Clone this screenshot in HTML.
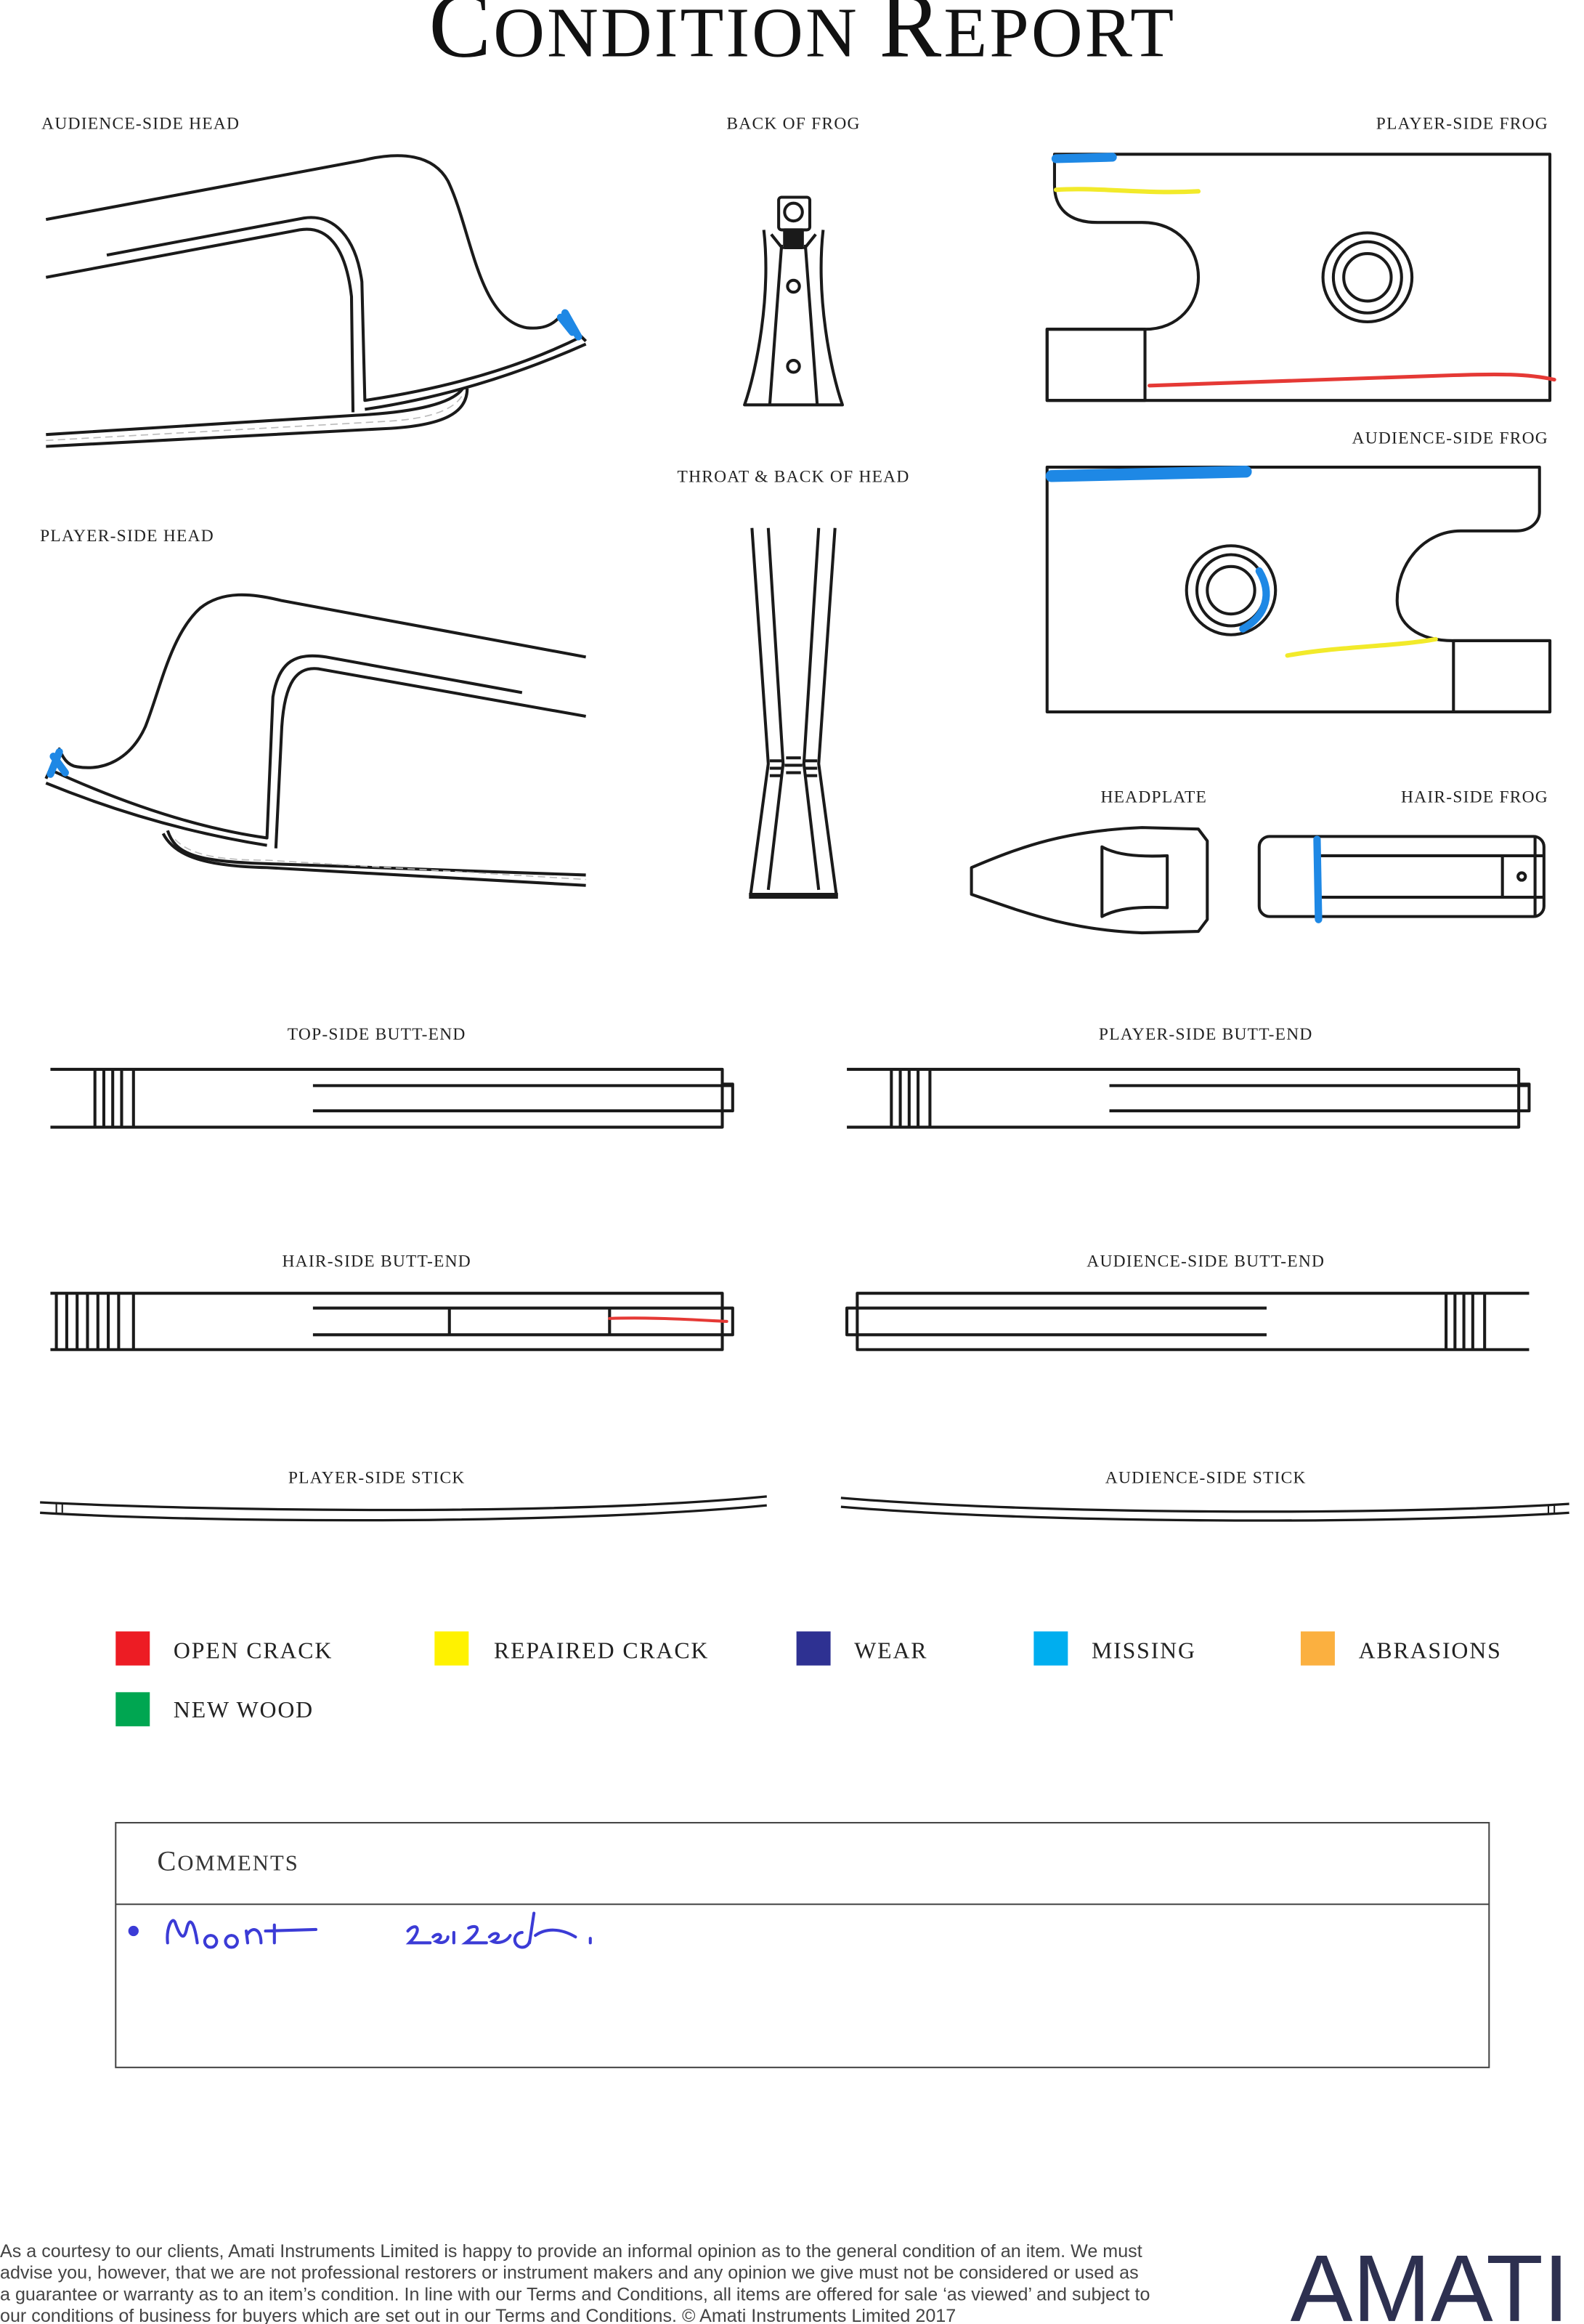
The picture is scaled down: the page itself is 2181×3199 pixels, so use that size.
<!DOCTYPE html>
<html><head><meta charset="utf-8"><style>
html,body{margin:0;padding:0;background:#fff}
svg{display:block}
.l{font-family:"Liberation Serif",serif;font-size:11.5px;letter-spacing:0.6px;fill:#222}
.g{font-family:"Liberation Serif",serif;font-size:15.6px;letter-spacing:0.9px;fill:#222}
.f{font-family:"Liberation Sans",sans-serif;font-size:12.3px;fill:#444}
</style></head><body>
<svg width="2181" height="3199" viewBox="0 0 1068 1567" preserveAspectRatio="none" xmlns="http://www.w3.org/2000/svg">
<rect width="1085" height="1592" fill="#fff"/>
<text x="541" y="38" text-anchor="middle" font-family="Liberation Serif,serif" fill="#111" letter-spacing="1.5"><tspan font-size="63">C</tspan><tspan font-size="48">ONDITION </tspan><tspan font-size="63">R</tspan><tspan font-size="48">EPORT</tspan></text>

<text class="l" x="28" y="87">AUDIENCE-SIDE HEAD</text>
<text class="l" x="535" y="87" text-anchor="middle">BACK OF FROG</text>
<text class="l" x="1044" y="87" text-anchor="end">PLAYER-SIDE FROG</text>
<text class="l" x="1044" y="299" text-anchor="end">AUDIENCE-SIDE FROG</text>
<text class="l" x="535" y="325" text-anchor="middle">THROAT &amp; BACK OF HEAD</text>
<text class="l" x="27" y="365">PLAYER-SIDE HEAD</text>
<text class="l" x="778" y="541" text-anchor="middle">HEADPLATE</text>
<text class="l" x="1044" y="541" text-anchor="end">HAIR-SIDE FROG</text>
<text class="l" x="254" y="701" text-anchor="middle">TOP-SIDE BUTT-END</text>
<text class="l" x="813" y="701" text-anchor="middle">PLAYER-SIDE BUTT-END</text>
<text class="l" x="254" y="854" text-anchor="middle">HAIR-SIDE BUTT-END</text>
<text class="l" x="813" y="854" text-anchor="middle">AUDIENCE-SIDE BUTT-END</text>
<text class="l" x="254" y="1000" text-anchor="middle">PLAYER-SIDE STICK</text>
<text class="l" x="813" y="1000" text-anchor="middle">AUDIENCE-SIDE STICK</text>

<g fill="none" stroke="#1a1a1a" stroke-width="2" stroke-linejoin="round">
<path d="M31,148 L245,108 C270,102 292,104 302,122 C318,155 322,215 355,221 C365,222 372,220 378,213 L395,230"/>
<path d="M72,172 L205,147 C225,144 240,160 244,190 L246,270 C300,262 350,248 392,227"/>
<path d="M31,187 L202,155 C220,152 233,165 237,200 L238,278"/>
<path d="M246,276 C300,268 350,252 395,232"/>
<path d="M31,293 L240,280 C280,278 305,272 312,262"/>
<path d="M31,301 L260,289 C300,287 315,278 315,262"/>
<path d="M31,297 L262,284 C295,282 308,274 312,266" stroke="#bbb" stroke-width="0.8" stroke-dasharray="5 3"/>
<path d="M395,443 L190,405 C170,400 150,398 135,410 C115,428 108,465 98,490 C88,512 70,520 52,517 C45,516 42,510 40,505 L31,525"/>
<path d="M352,467 L220,443 C200,440 188,445 184,470 L180,565 C130,558 80,540 36,520"/>
<path d="M395,483 L215,451 C200,449 192,460 190,490 L186,572"/>
<path d="M31,528 C80,548 130,562 180,570"/>
<path d="M113,560 C118,575 130,580 170,582 L395,590"/>
<path d="M110,562 C118,578 140,584 180,585 L395,597"/>
<path d="M118,566 C128,576 145,580 180,580 L395,593" stroke="#bbb" stroke-width="0.8" stroke-dasharray="5 3"/>
<rect x="525" y="133" width="21" height="22" rx="2"/>
<circle cx="535" cy="143" r="6"/>
<path d="M515,155 C520,200 510,250 502,273 L568,273 C560,250 550,200 555,155"/>
<path d="M527,165 L519,273 M543,165 L551,273 M520,158 L528,168 M550,158 L542,168"/>
<rect x="529" y="155" width="12" height="12" fill="#1a1a1a"/>
<circle cx="535" cy="193" r="4"/><circle cx="535" cy="247" r="4"/>
<path d="M711,104 L1045,104 L1045,270 L706,270 L706,222 L772,222 C795,222 808,205 808,187 C808,168 795,150 770,150 L740,150 C720,150 711,140 711,125 Z"/>
<rect x="706" y="222" width="66" height="48"/>
<ellipse cx="922" cy="187" rx="30" ry="30"/><ellipse cx="922" cy="187" rx="23" ry="24"/><ellipse cx="922" cy="187" rx="16" ry="16"/>
<path d="M706,315 L1038,315 L1038,345 C1038,352 1032,358 1022,358 L985,358 C960,358 942,380 942,405 C942,420 955,432 980,432 L1045,432 L1045,480 L706,480 Z"/>
<rect x="980" y="432" width="65" height="48"/>
<ellipse cx="830" cy="398" rx="30" ry="30"/><ellipse cx="830" cy="398" rx="23" ry="24"/><ellipse cx="830" cy="398" rx="16" ry="16"/>
<path d="M507,356 L518,515 L506,604 M518,356 L528,515 L518,600 M552,356 L542,515 L552,600 M563,356 L552,515 L564,604"/>
<path d="M505,604 L565,604" stroke-width="4"/>
<g fill="#1a1a1a" stroke="none"><rect x="519" y="512" width="8" height="2"/><rect x="519" y="517" width="8" height="2"/><rect x="519" y="522" width="8" height="2"/><rect x="530" y="510" width="10" height="2"/><rect x="529" y="515" width="12" height="2"/><rect x="530" y="520" width="10" height="2"/><rect x="543" y="512" width="8" height="2"/><rect x="543" y="517" width="8" height="2"/><rect x="543" y="522" width="8" height="2"/></g>
<path d="M655,585 C690,570 720,560 770,558 L808,559 L814,567 L814,620 L808,628 L770,629 C720,627 690,615 655,603 Z"/>
<path d="M743,571 C752,576 765,578 787,577 L787,612 C765,611 752,613 743,618 Z"/>
<rect x="849" y="564" width="192" height="54" rx="7"/>
<path d="M888,564 L888,618 M888,577 L1041,577 M888,605 L1041,605 M1013,577 L1013,605 M1035,564 L1035,618"/>
<circle cx="1026" cy="591" r="2.5"/>
<path d="M34,721 L487,721 L487,760 L34,760 M487,731 L494,731 L494,749 L487,749 M211,732 L494,732 M211,749 L494,749 M64,721 L64,760 M70,721 L70,760 M76,721 L76,760 M82,721 L82,760 M90,721 L90,760"/>
<path d="M571,721 L1024,721 L1024,760 L571,760 M1024,731 L1031,731 L1031,749 L1024,749 M748,732 L1031,732 M748,749 L1031,749 M601,721 L601,760 M607,721 L607,760 M613,721 L613,760 M619,721 L619,760 M627,721 L627,760"/>
<path d="M34,872 L487,872 L487,910 L34,910 M487,882 L494,882 L494,900 L487,900 M211,882 L494,882 M211,900 L494,900 M303,882 L303,900 M411,882 L411,900 M38,872 L38,910 M45,872 L45,910 M52,872 L52,910 M59,872 L59,910 M66,872 L66,910 M73,872 L73,910 M80,872 L80,910 M90,872 L90,910"/>
<path d="M1031,872 L578,872 L578,910 L1031,910 M578,882 L571,882 L571,900 L578,900 M571,882 L854,882 M571,900 L854,900 M975,872 L975,910 M981,872 L981,910 M987,872 L987,910 M993,872 L993,910 M1001,872 L1001,910"/>
<path d="M27,1013 C150,1019 380,1022 517,1009 M27,1020 C150,1027 380,1028 517,1015" stroke-width="1.6"/>
<path d="M38,1014 L38,1020 M42,1014 L42,1020" stroke-width="1"/>
<path d="M567,1010 C700,1021 930,1022 1058,1014 M567,1016 C700,1027 930,1028 1058,1020" stroke-width="1.6"/>
<path d="M1044,1015 L1044,1021 M1048,1015 L1048,1021" stroke-width="1"/>
</g>

<g fill="none" stroke-linecap="round">
<path d="M378,214 L386,224 M381,211 L390,227" stroke="#1e88e5" stroke-width="5"/>
<path d="M36,510 L44,521 M40,507 L34,522" stroke="#1e88e5" stroke-width="5"/>
<path d="M712,107 L750,106" stroke="#1e88e5" stroke-width="6"/>
<path d="M712,128 C740,126 770,131 808,129" stroke="#f2ea2a" stroke-width="3"/>
<path d="M775,260 C850,258 920,255 980,253 C1010,252 1030,252 1048,256" stroke="#e53935" stroke-width="2.5"/>
<path d="M709,321 L840,318" stroke="#1e88e5" stroke-width="8"/>
<path d="M849,385 C858,400 854,415 838,424" stroke="#1e88e5" stroke-width="5"/>
<path d="M868,442 C900,436 940,436 968,431" stroke="#f2ea2a" stroke-width="3"/>
<path d="M888,566 L889,620" stroke="#1e88e5" stroke-width="5"/>
<path d="M411,889 C440,888 470,890 490,891" stroke="#e53935" stroke-width="2"/>
</g>

<rect x="78" y="1100" width="23" height="23" fill="#ed1c24"/>
<rect x="293" y="1100" width="23" height="23" fill="#fff200"/>
<rect x="537" y="1100" width="23" height="23" fill="#2e3192"/>
<rect x="697" y="1100" width="23" height="23" fill="#00aeef"/>
<rect x="877" y="1100" width="23" height="23" fill="#fbb040"/>
<rect x="78" y="1141" width="23" height="23" fill="#00a651"/>
<text class="g" x="117" y="1118">OPEN CRACK</text>
<text class="g" x="333" y="1118">REPAIRED CRACK</text>
<text class="g" x="576" y="1118">WEAR</text>
<text class="g" x="736" y="1118">MISSING</text>
<text class="g" x="916" y="1118">ABRASIONS</text>
<text class="g" x="117" y="1158">NEW WOOD</text>

<rect x="78" y="1229" width="926" height="165" fill="none" stroke="#444" stroke-width="1"/>
<line x1="78" y1="1284" x2="1004" y2="1284" stroke="#444" stroke-width="1"/>
<text x="106" y="1261" font-family="Liberation Serif,serif" fill="#333" letter-spacing="1"><tspan font-size="19">C</tspan><tspan font-size="15">OMMENTS</tspan></text>
<g fill="none" stroke="#3b3bd6" stroke-width="2" stroke-linecap="round">
<circle cx="90" cy="1302" r="2.5" fill="#3b3bd6"/>
<path d="M113,1310 C112,1300 116,1292 118,1296 C121,1305 124,1310 126,1300 C128,1292 131,1296 133,1310"/>
<path d="M142,1305 a4,4 0 1,0 0.1,0 M156,1305 a4,4 0 1,0 0.1,0 M166,1302 L167,1310 M167,1304 C170,1299 176,1300 176,1310 M185,1298 L185,1310 M179,1302 L213,1301"/>
<path d="M275,1302 C280,1296 286,1300 276,1310 L290,1310 M292,1306 C296,1302 300,1306 294,1309 C298,1311 302,1309 302,1306 M306,1303 L306,1310 M316,1300 C322,1297 326,1301 314,1310 L328,1310 M330,1306 C334,1301 340,1305 332,1309 C336,1311 342,1309 344,1305 M352,1303 a5,5 0 1,0 5,6 M357,1310 L360,1290 M361,1305 C368,1300 378,1300 388,1306 M398,1307 L398,1310"/>
</g>

<text class="f" x="0" y="1522">As a courtesy to our clients, Amati Instruments Limited is happy to provide an informal opinion as to the general condition of an item. We must</text>
<text class="f" x="0" y="1536.5">advise you, however, that we are not professional restorers or instrument makers and any opinion we give must not be considered or used as</text>
<text class="f" x="0" y="1551">a guarantee or warranty as to an item’s condition. In line with our Terms and Conditions, all items are offered for sale ‘as viewed’ and subject to</text>
<text class="f" x="0" y="1565.5">our conditions of business for buyers which are set out in our Terms and Conditions. © Amati Instruments Limited 2017</text>
<text x="870" y="1565" font-family="Liberation Sans,sans-serif" font-size="64" fill="#2d3050" textLength="188" lengthAdjust="spacingAndGlyphs">AMATI</text>
</svg>
</body></html>
